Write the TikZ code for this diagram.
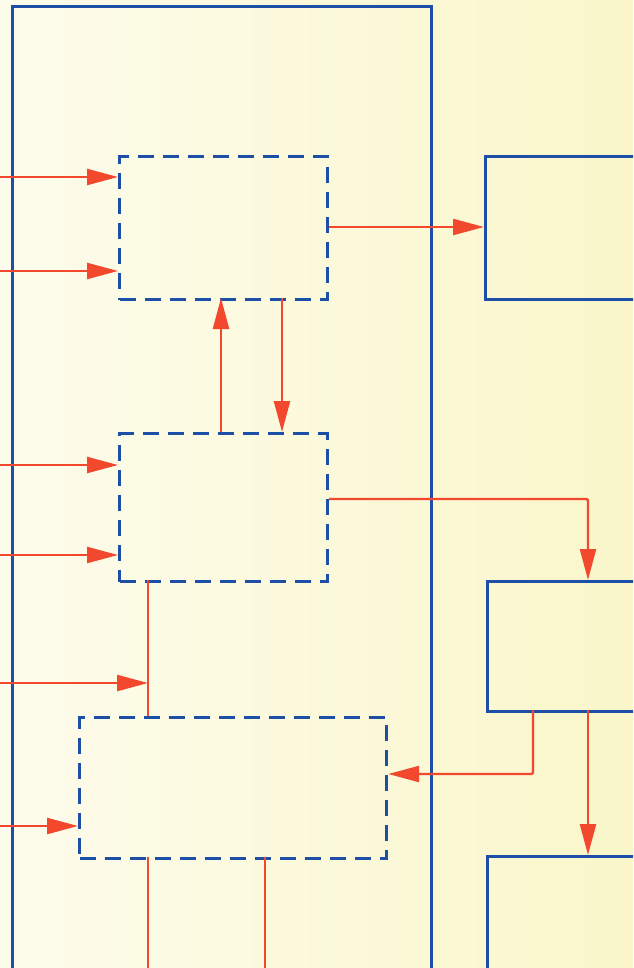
\documentclass[tikz,border=0pt]{standalone}
\usetikzlibrary{arrows.meta,calc}
\definecolor{bgL}{HTML}{FDFCEC}
\definecolor{bgR}{HTML}{FAF6CA}
\definecolor{ink}{HTML}{1D4FA6}
\definecolor{flow}{HTML}{F1482E}
\tikzset{
  outerbox/.style={draw=ink, line width=3.4pt, inner sep=0pt, anchor=north west},
  solidbox/.style={draw=ink, line width=3.4pt, inner sep=0pt, anchor=north west},
  dashbox/.style={draw=ink, line width=3.2pt, dash pattern=on 16pt off 9pt, inner sep=0pt, anchor=north west},
  link/.style={draw=flow, line width=2.4pt},
  arr/.style={link, -{Triangle[length=31pt,width=16pt]}},
}
\begin{document}
\begin{tikzpicture}[x=1pt,y=-1pt]
\clip (0,0) rectangle (633,968);
\shade[left color=bgL, right color=bgR] (0,0) rectangle (633,968);
% outer frame
\node[outerbox, minimum width=419pt, minimum height=1000pt] (frame) at (11,5) {};
% dashed boxes
\node[dashbox, minimum width=208pt, minimum height=143pt] (b1) at (118,155) {};
\node[dashbox, minimum width=208pt, minimum height=148pt] (b2) at (118,432) {};
\node[dashbox, minimum width=307pt, minimum height=141pt] (b3) at (78,716) {};
% right boxes
\node[solidbox, minimum width=200pt, minimum height=143pt] (ra) at (484,155) {};
\node[solidbox, minimum width=200pt, minimum height=130pt] (rb) at (486,580) {};
\node[solidbox, minimum width=200pt, minimum height=150pt] (rc) at (486,855) {};
% free ends
\coordinate (i1) at (0,177);
\coordinate (i2) at (0,271);
\coordinate (i3) at (0,465);
\coordinate (i4) at (0,555);
\coordinate (i5) at (0,683);
\coordinate (i6) at (0,826);
\coordinate (o1) at (148,970);
\coordinate (o2) at (265,970);
\coordinate (j) at (148,683);
% inputs
\draw[arr] (i1) -- (i1 -| b1.west);
\draw[arr] (i2) -- (i2 -| b1.west);
\draw[arr] (i3) -- (i3 -| b2.west);
\draw[arr] (i4) -- (i4 -| b2.west);
\draw[arr] (i5) -- (j);
\draw[arr] (i6) -- (i6 -| b3.west);
% box links
\draw[arr] (b1.east |- 0,227) -- (ra.west |- 0,227);
\draw[arr] (221,432) -- (221,298);
\draw[arr] (282,298) -- (282,432);
\draw[arr, rounded corners=2pt] (b2.east |- 0,499) -- (588,499) -- (588,580);
\draw[link] (148,580) -- (148,716);
\draw[arr, rounded corners=2pt] (533,710) -- (533,774) -- (b3.east |- 0,774);
\draw[arr] (588,710) -- (588,855);
\draw[link] (148,857) -- (o1);
\draw[link] (265,857) -- (o2);
\end{tikzpicture}
\end{document}
